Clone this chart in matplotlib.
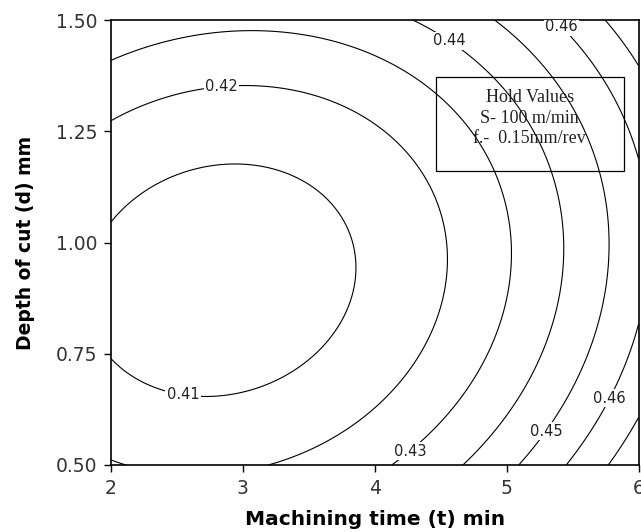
"""
Contour plot: surface roughness vs machining time and depth of cut
(hold values S = 100 m/min, f = 0.15 mm/rev)
"""

import numpy as np
import matplotlib.pyplot as plt
from matplotlib.patches import Rectangle

levels = [0.41, 0.42, 0.43, 0.44, 0.45, 0.46, 0.47]

# points traced along each contour line of the original figure
# (machining time t in min, depth of cut d in mm)
t_041 = [2.00, 2.24, 2.67, 2.90, 3.30, 3.58, 3.73, 3.83, 3.86, 3.58, 3.41, 3.07, 2.77, 2.37, 2.00]
d_041 = [1.055, 1.113, 1.163, 1.172, 1.156, 1.102, 1.066, 1.006, 0.945, 0.765, 0.713, 0.669, 0.657, 0.673, 0.736]

t_042 = [2.00, 2.29, 2.67, 3.07, 3.58, 3.83, 4.09, 4.28, 4.41, 4.51, 4.55, 4.49, 4.39, 4.24, 4.01, 3.83, 3.58, 3.20, 2.00, 2.08]
d_042 = [1.28, 1.313, 1.343, 1.349, 1.32, 1.304, 1.26, 1.20, 1.14, 1.066, 0.945, 0.826, 0.752, 0.684, 0.630, 0.585, 0.549, 0.504, 0.513, 0.50]

t_043 = [2.00, 2.42, 2.92, 3.23, 3.58, 3.90, 4.34, 4.72, 4.89, 4.98, 5.03, 4.98, 4.84, 4.64, 4.41, 4.12]
d_043 = [1.41, 1.448, 1.473, 1.47, 1.455, 1.448, 1.383, 1.26, 1.185, 1.096, 0.945, 0.848, 0.752, 0.653, 0.579, 0.504]

t_044 = [4.26, 4.69, 4.92, 5.09, 5.22, 5.34, 5.42, 5.45, 5.37, 5.22, 4.99, 4.68]
d_044 = [1.50, 1.421, 1.358, 1.298, 1.23, 1.125, 1.021, 0.945, 0.826, 0.713, 0.608, 0.504]

t_045 = [4.89, 5.09, 5.32, 5.47, 5.60, 5.70, 5.75, 5.77, 5.71, 5.57, 5.34, 5.12]
d_045 = [1.50, 1.455, 1.388, 1.305, 1.224, 1.125, 1.021, 0.945, 0.826, 0.713, 0.608, 0.504]

t_046 = [5.49, 5.72, 5.87, 5.985, 5.985, 5.87, 5.72, 5.47]
d_046 = [1.46, 1.372, 1.298, 1.208, 0.788, 0.713, 0.617, 0.504]

t_047 = [5.75, 6.00, 5.98, 5.79]
d_047 = [1.50, 1.417, 0.594, 0.504]

# where the contour labels sit
label_t = [2.84, 2.55, 4.56, 5.40, 4.27, 5.28, 5.78]
label_d = [1.347, 0.662, 1.45, 1.48, 0.53, 0.58, 0.65]

# --- quadratic response surface fitted through the traced lines ---
traces = [(t_041, d_041), (t_042, d_042), (t_043, d_043), (t_044, d_044),
          (t_045, d_045), (t_046, d_046), (t_047, d_047)]
t_all = np.concatenate([np.array(t) for t, d in traces])
d_all = np.concatenate([np.array(d) for t, d in traces])
z_all = np.concatenate([np.full(len(t), lv) for (t, d), lv in zip(traces, levels)])

def design(t, d):
    return np.column_stack([np.ones_like(t), t, d, t**2, d**2, t*d])

coef, *_ = np.linalg.lstsq(design(t_all, d_all), z_all, rcond=None)

tt, dd = np.meshgrid(np.linspace(2, 6, 300), np.linspace(0.5, 1.5, 300))
zz = (design(tt.ravel(), dd.ravel()) @ coef).reshape(tt.shape)

# --- figure ---
fig = plt.figure(figsize=(6.41, 5.32), dpi=100)
ax = fig.add_axes([111/641, 67/532, 527.5/641, 445/532])

cs = ax.contour(tt, dd, zz, levels=levels, colors='black', linewidths=0.8)
labels = ax.clabel(cs, levels, inline=False, fmt='%.2f', fontsize=10.5,
                   manual=list(zip(label_t, label_d)))
for txt in labels:
    txt.set_rotation(0)
    txt.set_color('#222222')
    txt.set_bbox(dict(facecolor='white', edgecolor='none', pad=1.0))

# hold values box
ax.add_patch(Rectangle((0.616, 0.661), 0.3565, 0.211, transform=ax.transAxes,
                       fill=False, edgecolor='black', linewidth=0.9, zorder=5))
for y, s in zip([0.825, 0.778, 0.733], ['Hold Values', 'S- 100 m/min', 'f.-  0.15mm/rev']):
    ax.text(0.794, y, s, transform=ax.transAxes, ha='center', va='center',
            fontsize=13, family='Liberation Serif', color='#222222', zorder=6)

ax.set_xlim(2, 6)
ax.set_ylim(0.5, 1.5)
ax.set_xticks([2, 3, 4, 5, 6])
ax.set_yticks([0.50, 0.75, 1.00, 1.25, 1.50])
ax.set_yticklabels(['0.50', '0.75', '1.00', '1.25', '1.50'])
ax.tick_params(direction='out', length=5, width=1, labelsize=13.5, pad=5,
               labelcolor='#333333')
for sp in ax.spines.values():
    sp.set_linewidth(1.2)

ax.set_xlabel('Machining time (t) min', fontsize=14.5, fontweight='bold', labelpad=9)
ax.set_ylabel('Depth of cut (d) mm', fontsize=13.5, fontweight='bold', labelpad=15)

fig.savefig('out.png', dpi=100, facecolor='white')
